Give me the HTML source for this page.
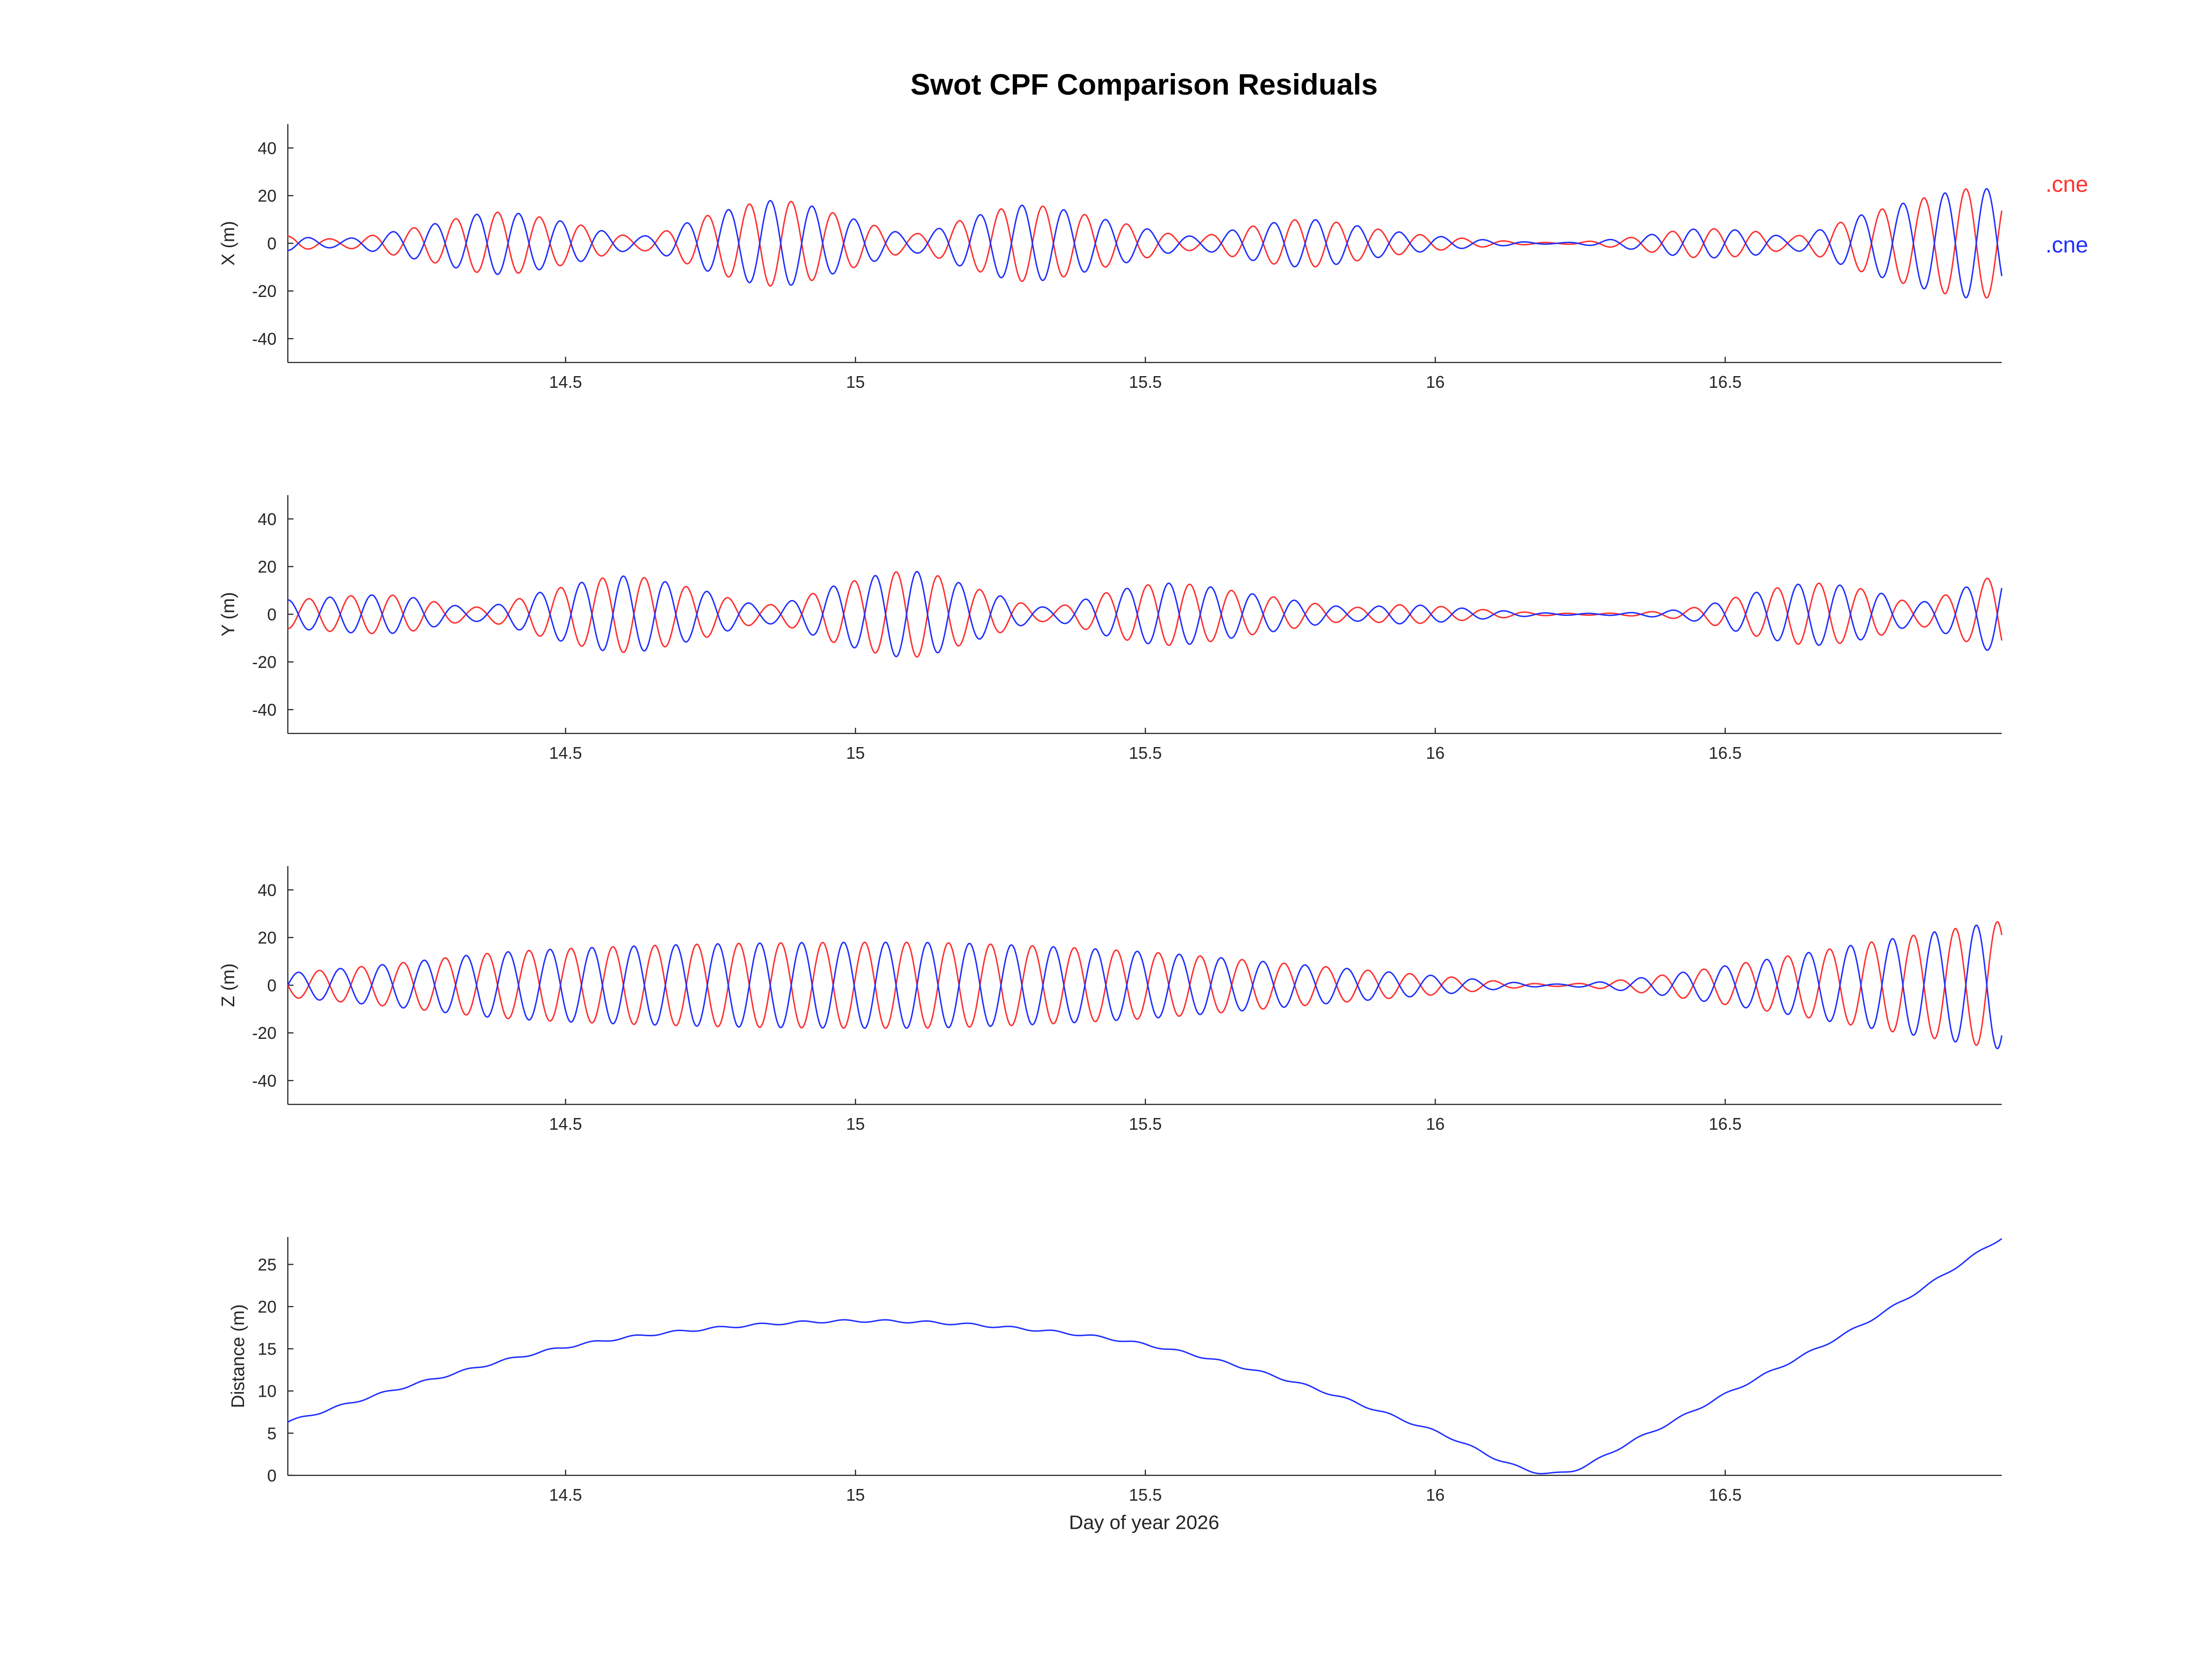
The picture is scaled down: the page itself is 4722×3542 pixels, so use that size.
<!DOCTYPE html>
<html><head><meta charset="utf-8"><style>
html,body{margin:0;padding:0;background:#fff;}
#c{width:4722px;height:3542px;}
svg{display:block;}
text{font-family:"Liberation Sans",sans-serif;fill:#262626;}
</style></head><body>
<div id="c"></div>
<script>
(function(){
var L=204,R=1419,T0=14.021,T1=16.977;
function X(t){return L+(t-T0)/(T1-T0)*(R-L);}
var h='<svg width="4722" height="3542" viewBox="0 0 1568 1176.2" xmlns="http://www.w3.org/2000/svg">';
h+='<rect width="1568" height="1176.2" fill="#fff"/>';
h+='<text x="811" y="67" text-anchor="middle" font-size="21" font-weight="bold" style="fill:#000">Swot CPF Comparison Residuals</text>';
h+='<text x="811" y="1084" text-anchor="middle" font-size="14">Day of year 2026</text>';
h+='<text x="1450" y="136" font-size="16" style="fill:#ff3030">.cne</text>';
h+='<text x="1450" y="179" font-size="16" style="fill:#1f30ff">.cne</text>';
var tops=[88,351,614,877],H=169;
var labels=['X (m)','Y (m)','Z (m)','Distance (m)'];
function interp(pts,t){
  for(var i=0;i<pts.length-1;i++){
    if(t<=pts[i+1][0]){
      var p0=pts[Math.max(i-1,0)],p1=pts[i],p2=pts[i+1],p3=pts[Math.min(i+2,pts.length-1)];
      var u=(t-p1[0])/(p2[0]-p1[0]);
      var m1=(p2[1]-p0[1])/(p2[0]-p0[0])*(p2[0]-p1[0]);
      var m2=(p3[1]-p1[1])/(p3[0]-p1[0])*(p2[0]-p1[0]);
      var u2=u*u,u3=u2*u;
      return (2*u3-3*u2+1)*p1[1]+(u3-2*u2+u)*m1+(-2*u3+3*u2)*p2[1]+(u3-u2)*m2;
    }
  }
  return pts[pts.length-1][1];
}
for(var p=0;p<4;p++){
  var tp=tops[p],bot=tp+H;
  h+='<line x1="'+L+'" y1="'+tp+'" x2="'+L+'" y2="'+bot+'" stroke="#262626" stroke-width="0.8"/>';
  h+='<line x1="'+L+'" y1="'+bot+'" x2="'+R+'" y2="'+bot+'" stroke="#262626" stroke-width="0.8"/>';
  [14.5,15,15.5,16,16.5].forEach(function(v){var x=X(v);
    h+='<line x1="'+x+'" y1="'+bot+'" x2="'+x+'" y2="'+(bot-4)+'" stroke="#262626" stroke-width="0.8"/>';
    h+='<text x="'+x+'" y="'+(bot+18)+'" text-anchor="middle" font-size="12">'+v+'</text>';});
  var ticks,ymin,ymax;
  if(p<3){ticks=[-40,-20,0,20,40];ymin=-50;ymax=50;}else{ticks=[0,5,10,15,20,25];ymin=0;ymax=28.25;}
  var Y=(function(tp,ymin,ymax){return function(v){return tp+H-(v-ymin)/(ymax-ymin)*H;};})(tp,ymin,ymax);
  ticks.forEach(function(v){var y=Y(v);
    h+='<line x1="'+L+'" y1="'+y+'" x2="'+(L+4)+'" y2="'+y+'" stroke="#262626" stroke-width="0.8"/>';
    h+='<text x="'+(L-8)+'" y="'+(y+4.3)+'" text-anchor="end" font-size="12">'+v+'</text>';});
  var cy=tp+H/2;
  h+='<text transform="translate('+(p<3?166:173)+','+cy+') rotate(-90)" text-anchor="middle" font-size="13">'+labels[p]+'</text>';
  var N=3000,P=0.07235,i,t;
  if(p<3){
    var env;
    if(p==0)env=[[14.02,3],[14.12,2],[14.25,7],[14.38,13],[14.5,9],[14.63,3],[14.75,12],[14.87,18],[15.0,10],[15.1,4],[15.2,11],[15.3,16],[15.45,9],[15.58,3],[15.68,7],[15.78,10],[15.9,6],[16.0,3],[16.2,0.3],[16.32,2],[16.45,6],[16.55,5],[16.62,3],[16.75,13],[16.92,23],[16.98,22]];
    else if(p==1)env=[[14.02,6],[14.2,8],[14.35,3],[14.47,10],[14.6,16],[14.72,11],[14.85,4],[14.98,13],[15.1,18],[15.22,10],[15.33,3],[15.45,10],[15.55,13],[15.7,8],[15.85,3],[15.95,4],[16.08,2],[16.2,0.5],[16.35,0.8],[16.45,3],[16.55,9],[16.65,13],[16.75,10],[16.83,5],[16.9,10],[16.98,18]];
    else env=[[14.02,5],[14.2,9],[14.4,14],[14.7,17],[15.0,18],[15.2,17.5],[15.5,14],[15.75,9],[16.0,4],[16.2,0.5],[16.35,3],[16.55,10],[16.75,18],[16.98,27]];
    var ph=[0,0.5,0.25][p];
    var dr='',db='';
    for(i=0;i<=N;i++){t=T0+(T1-T0)*i/N;var a=interp(env,t);
      var v=a*Math.cos(2*Math.PI*((t-T0)/P+ph));
      var x=X(t).toFixed(2);
      dr+=(i?'L':'M')+x+' '+Y(v).toFixed(2);
      db+=(i?'L':'M')+x+' '+Y(-v).toFixed(2);}
    h+='<path d="'+dr+'" fill="none" stroke="#ff3030" stroke-width="1"/>';
    h+='<path d="'+db+'" fill="none" stroke="#1f30ff" stroke-width="1"/>';
  }else{
    var pts=[[14.02,6.3],[14.25,11],[14.5,15.2],[14.75,17.4],[15.0,18.3],[15.25,17.6],[15.5,15.5],[15.75,11.2],[16.0,5.2],[16.2,0.2],[16.35,4.4],[16.5,9.6],[16.75,18.4],[16.98,28.3]];
    var d='';
    for(i=0;i<=N;i++){t=T0+(T1-T0)*i/N;
      var v2=interp(pts,t)+0.15*Math.sin(2*Math.PI*(t-T0)/P);
      if(v2<0.15)v2=0.15;
      d+=(i?'L':'M')+X(t).toFixed(2)+' '+Y(v2).toFixed(2);}
    h+='<path d="'+d+'" fill="none" stroke="#1f30ff" stroke-width="1"/>';
  }
}
h+='</svg>';
document.getElementById('c').innerHTML=h;
})();
</script>
</body></html>
